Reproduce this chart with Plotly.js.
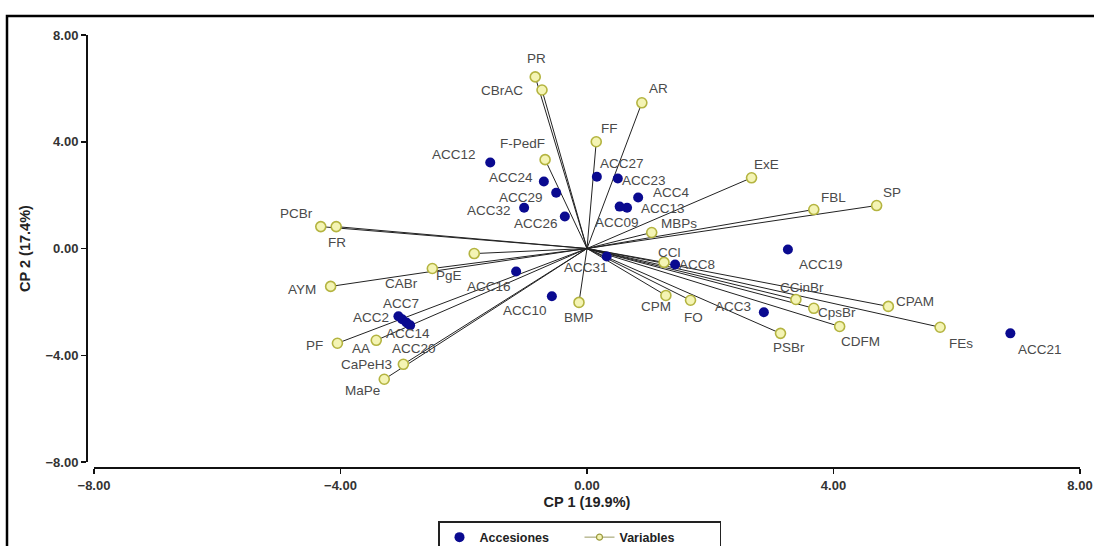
<!DOCTYPE html>
<html><head><meta charset="utf-8">
<script src="https://cdn.plot.ly/plotly-3.0.1.min.js"></script>
<style>html,body{margin:0;padding:0;background:#fff}#chart{width:1094px;height:546px}</style>
</head><body><div id="chart"></div>
<script>
// Accessions (blue points)
const accNames = ['ACC12','ACC24','ACC29','ACC32','ACC26','ACC27','ACC23','ACC4','ACC13','ACC09','ACC31','ACC8','ACC19','ACC16','ACC10','ACC3','ACC21','ACC7','ACC2','ACC14','ACC20'];
const accX = [-1.57,-0.70,-0.50,-1.02,-0.36,0.16,0.50,0.83,0.65,0.53,0.32,1.43,3.26,-1.15,-0.57,2.87,6.87,-3.00,-3.06,-2.93,-2.87];
const accY = [3.22,2.51,2.09,1.53,1.20,2.69,2.62,1.91,1.53,1.57,-0.30,-0.60,-0.04,-0.86,-1.79,-2.39,-3.18,-2.65,-2.54,-2.77,-2.88];

// Variables (vectors)
const varNames = ['PR','CBrAC','AR','FF','F-PedF','ExE','FBL','SP','MBPs','PCBr','FR','CABr','PgE','AYM','PF','AA','CaPeH3','MaPe','BMP','CPM','FO','CCl','PSBr','CCinBr','CpsBr','CDFM','CPAM','FEs'];
const varX = [-0.84,-0.73,0.89,0.15,-0.68,2.67,3.68,4.70,1.05,-4.32,-4.07,-1.83,-2.51,-4.16,-4.05,-3.42,-2.98,-3.29,-0.13,1.28,1.68,1.25,3.14,3.39,3.68,4.10,4.89,5.73];
const varY = [6.43,5.94,5.46,4.00,3.33,2.65,1.46,1.61,0.60,0.82,0.82,-0.19,-0.75,-1.42,-3.55,-3.44,-4.34,-4.90,-2.02,-1.76,-1.94,-0.52,-3.18,-1.91,-2.24,-2.92,-2.17,-2.95];

const xTicks = [-8,-4,0,4,8];
const yTicks = [-8,-4,0,4,8];

// label offsets in pixels (screen: +dx right, +dy down)
const accLabDx = [-36,-33,-35,-35,-29,25,26,33,36,-3,-21,22,33,-27,-27,-31,30,-1,-27,2,4];
const accLabDy = [-8,-4,5,3,7,-13,2,-5,1,16,11,0,15,15,14,-6,16,-16,1,11,23];
const varLabDx = [1,-40,17,13,-23,15,20,15,27,-24,1,-73,17,-29,-23,-15,-37,-22,0,-10,3,5,8,6,23,21,27,21];
const varLabDy = [-18,1,-14,-13,-16,-13,-12,-13,-9,-13,16,30,7,3,2,8,0,11,15,11,17,-10,14,-12,4,15,-5,16];

// vector lines from origin
const lineX = [], lineY = [];
varX.forEach((v,i)=>{ lineX.push(0, v, null); lineY.push(0, varY[i], null); });

const labFont = {family:'Liberation Sans, Arial, sans-serif', size:13.5, color:'#4a4a4a'};
const annotations = [];
accNames.forEach((n,i)=>annotations.push({x:accX[i], y:accY[i], xref:'x', yref:'y', text:n, showarrow:false, xshift:accLabDx[i], yshift:-accLabDy[i], font:labFont}));
varNames.forEach((n,i)=>annotations.push({x:varX[i], y:varY[i], xref:'x', yref:'y', text:n, showarrow:false, xshift:varLabDx[i], yshift:-varLabDy[i], font:labFont}));

const varMarker = {symbol:'circle', size:10, color:'#f4f4b4', line:{color:'#b4b440', width:1.6}};

const traces = [
  {x:lineX, y:lineY, mode:'lines', line:{color:'#222', width:1}, showlegend:false, hoverinfo:'skip'},
  {x:varX, y:varY, mode:'markers', marker:varMarker, showlegend:false, text:varNames},
  {x:accX, y:accY, mode:'markers', name:'Accesiones', marker:{symbol:'circle', size:10, color:'#0a0a90'}, text:accNames, legendrank:1},
  {x:[null], y:[null], mode:'lines+markers', name:'Variables', line:{color:'#9a9a60', width:1}, marker:{symbol:'circle', size:6, color:'#f4f4b4', line:{color:'#9a9a40', width:1.2}}, legendrank:2}
];

const W=1094, H=546, ml=87, mr=14, mt=35, mb=78;
const pw=W-ml-mr, ph=H-mt-mb;
const tickFont = {family:'Liberation Sans Narrow, Liberation Sans, Arial, sans-serif', size:13, color:'#333', weight:'bold'};
const titleFont = {family:'Liberation Sans, Arial, sans-serif', size:14.5, color:'#222', weight:'bold'};

const layout = {
  width:W, height:H,
  margin:{l:ml, r:mr, t:mt, b:mb, pad:0, autoexpand:false},
  paper_bgcolor:'#fff', plot_bgcolor:'#fff',
  showlegend:true,
  xaxis:{domain:[7/pw,1], range:[-8,8], anchor:'free', position:0, showline:true, linecolor:'#111', linewidth:2,
    ticks:'outside', ticklen:5, tickwidth:1.5, tickcolor:'#111', tickvals:xTicks, tickformat:'.2f', tickfont:tickFont,
    showgrid:false, zeroline:false, automargin:false, title:{text:'CP 1 (19.9%)', font:titleFont, standoff:4}},
  yaxis:{domain:[6/ph,1], range:[-8,8], anchor:'free', position:0, showline:true, linecolor:'#111', linewidth:2,
    ticks:'outside', ticklen:5, tickwidth:1.5, tickcolor:'#111', tickvals:yTicks, tickformat:'.2f', tickfont:tickFont,
    showgrid:false, zeroline:false, automargin:false, title:{text:'CP 2 (17.4%)', font:titleFont, standoff:10}},
  legend:{orientation:'h', x:(438-ml)/pw, xanchor:'left', y:(ph+mt-521)/ph, yanchor:'top',
    bordercolor:'#222', borderwidth:1.5, bgcolor:'#fff', entrywidth:95, entrywidthmode:'pixels',
    font:{family:'Liberation Sans, Arial, sans-serif', size:12.5, color:'#222', weight:'bold'}},
  shapes:[{type:'rect', xref:'paper', yref:'paper', x0:(7-ml)/pw, x1:(1110-ml)/pw, y0:(mt+ph-570)/ph, y1:(mt+ph-16)/ph,
    line:{color:'#000', width:2.5}, fillcolor:'rgba(0,0,0,0)', layer:'below'}],
  annotations:annotations
};

Plotly.newPlot('chart', traces, layout, {staticPlot:true, displayModeBar:false});
</script></body></html>
